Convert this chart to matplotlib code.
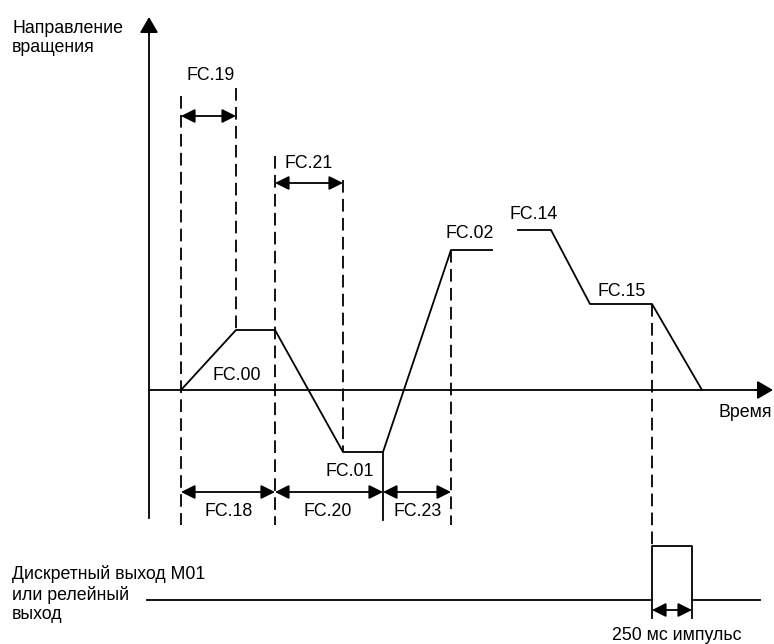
import matplotlib.pyplot as plt

plt.rcParams['font.family'] = ['Liberation Sans', 'DejaVu Sans']

# speed profile (diagram pixel coordinates, y grows downward)
prof1_x = [181, 236, 275, 343, 383, 451, 492]
prof1_y = [390, 330, 330, 452, 452, 250, 250]
prof2_x = [518, 551, 590, 652, 702]
prof2_y = [230, 230, 304, 304, 390]

# dashed guide lines: x, y_top, y_bottom
guide_x = [181, 236, 275, 343, 451, 652]
guide_top = [96, 88, 156, 180, 250, 304]
guide_bot = [525, 330, 525, 452, 525, 545]

# dimension arrows: x0, x1, y, label, label_x, label_y
dim_x0 = [181, 275, 181, 275, 383]
dim_x1 = [236, 343, 275, 383, 451]
dim_y = [116, 183, 492, 492, 492]
dim_lbl = ['FC.19', 'FC.21', 'FC.18', 'FC.20', 'FC.23']
dim_lx = [211, 309, 229, 328, 418]
dim_ly = [75, 163, 512, 512, 512]

# other labels on the profile
pt_lbl = ['FC.00', 'FC.01', 'FC.02', 'FC.14', 'FC.15']
pt_lx = [237, 350, 470, 534, 622]
pt_ly = [375, 471, 233, 214, 291]

# relay output pulse
pulse_x = [147, 652, 652, 692, 692, 760]
pulse_y = [600, 600, 546, 546, 600, 600]

fig = plt.figure(figsize=(7.74, 6.44), dpi=100)
ax = fig.add_axes([0, 0, 1, 1])
ax.set_xlim(0, 774)
ax.set_ylim(644, 0)
ax.axis('off')

lw = 1.3
fs = 12.8
big_head = dict(arrowstyle='-|>,head_length=0.48,head_width=0.28',
                color='black', lw=lw, mutation_scale=20, shrinkA=0, shrinkB=0)
dim_head = dict(arrowstyle='<|-|>,head_length=0.6,head_width=0.3',
                color='black', lw=lw, mutation_scale=14, shrinkA=0, shrinkB=0)

# axes
ax.plot([149, 149], [518, 30], color='black', lw=lw)
ax.annotate('', xy=(149, 17), xytext=(149, 35), arrowprops=big_head)
ax.plot([149, 760], [390, 390], color='black', lw=lw)
ax.annotate('', xy=(773, 390), xytext=(755, 390), arrowprops=big_head)

# profiles
ax.plot(prof1_x, prof1_y, color='black', lw=lw)
ax.plot(prof2_x, prof2_y, color='black', lw=lw)
ax.plot([383, 383], [452, 520], color='black', lw=lw)

for x, t, b in zip(guide_x, guide_top, guide_bot):
    ax.plot([x, x], [t, b], color='black', lw=lw, dashes=(7, 3.5))

for x0, x1, y, s, lx, ly in zip(dim_x0, dim_x1, dim_y, dim_lbl, dim_lx, dim_ly):
    ax.annotate('', xy=(x1, y), xytext=(x0, y), arrowprops=dim_head)
    ax.text(lx, ly, s, fontsize=fs, ha='center', va='center')

for s, lx, ly in zip(pt_lbl, pt_lx, pt_ly):
    ax.text(lx, ly, s, fontsize=fs, ha='center', va='center')

ax.text(12, 38, 'Направление\nвращения', fontsize=fs, ha='left', va='center',
        linespacing=1.2)
ax.text(745, 412, 'Время', fontsize=fs, ha='center', va='center')

# relay output
ax.plot(pulse_x, pulse_y, color='black', lw=lw)
ax.plot([652, 652], [600, 618], color='black', lw=lw)
ax.plot([692, 692], [600, 618], color='black', lw=lw)
ax.annotate('', xy=(692, 610), xytext=(652, 610), arrowprops=dim_head)
ax.text(677, 635, '250 мс импульс', fontsize=fs, ha='center', va='center')
ax.text(12, 594, 'Дискретный выход M01\nили релейный\nвыход', fontsize=fs,
        ha='left', va='center', linespacing=1.2)

fig.savefig('out.png', dpi=100)
